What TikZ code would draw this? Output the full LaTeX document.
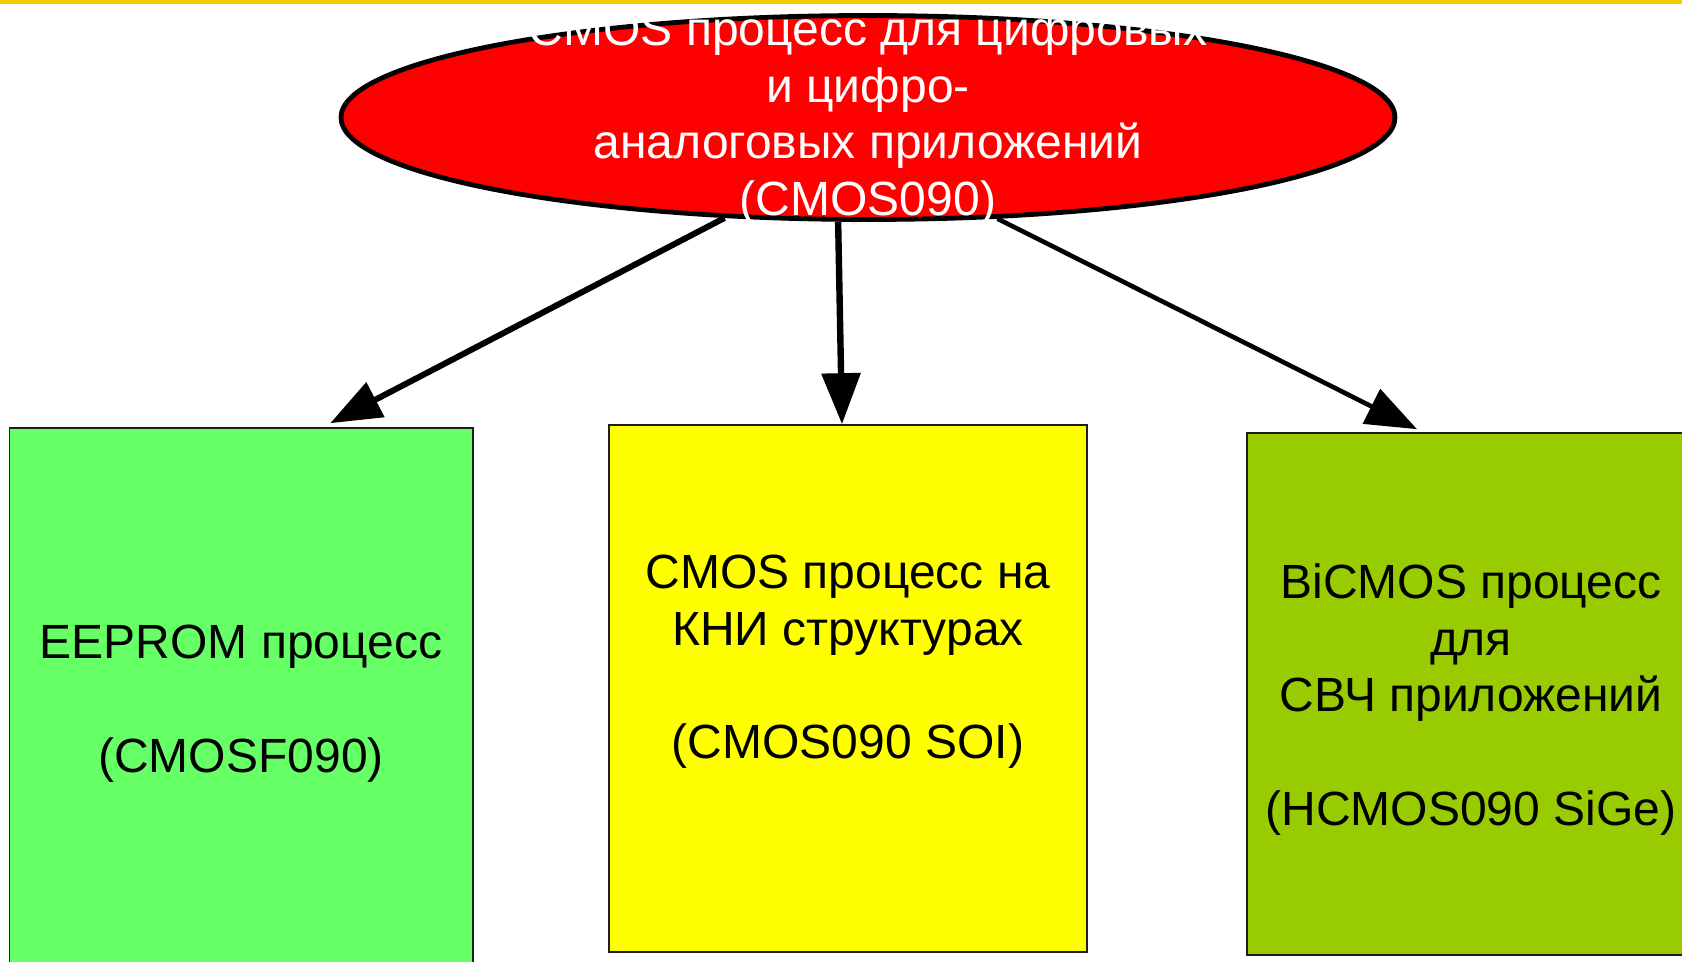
\documentclass[tikz,border=0pt]{standalone}
\usepackage{fontspec}
\setmainfont{Liberation Sans}
\usetikzlibrary{arrows.meta,shapes.geometric,positioning}
\definecolor{topbar}{RGB}{240,204,0}
\definecolor{redfill}{RGB}{255,0,0}
\definecolor{greenfill}{RGB}{102,255,102}
\definecolor{yellowfill}{RGB}{255,255,0}
\definecolor{olivefill}{RGB}{153,204,0}
\definecolor{boxline}{RGB}{30,30,30}
\tikzset{
  x=0.5pt, y=-0.5pt,
  boxnode/.style={draw=boxline, line width=0.8pt, rectangle, inner sep=0pt},
  lbl/.style={align=center, inner sep=0pt, font=\fontsize{24pt}{28.4pt}\selectfont},
  arr/.style={-{Triangle[length=25.5pt,width=19pt]}, black},
}
\begin{document}
\begin{tikzpicture}
\useasboundingbox (0,0) rectangle (1682,962);
\fill[topbar] (0,0) rectangle (1682,4);

% boxes
\node[boxnode, fill=greenfill, minimum width=463.5pt*0.5, minimum height=542pt*0.5] (green) at (241.25,699) {};
\node[boxnode, fill=yellowfill, minimum width=478pt*0.5, minimum height=527pt*0.5] (yellow) at (848,688.5) {};
\node[boxnode, fill=olivefill, minimum width=450pt*0.5, minimum height=522pt*0.5] (olive) at (1472,694) {};

% top ellipse
\node[ellipse, draw=black, line width=2.4pt, fill=redfill, minimum width=1054pt*0.5, minimum height=204pt*0.5, inner sep=0pt] (top) at (868,117.5) {};
\node[lbl, text=white] (toplbl) at (868,118) {CMOS процесс для цифровых\\и цифро-\\аналоговых приложений\\(CMOS090)};

% box labels
\node[lbl] (greenlbl) at (241,703.5) {EEPROM процесс\\[28.4pt](CMOSF090)};
\node[lbl] (yellowlbl) at (848,662) {CMOS процесс на\\КНИ структурах\\[28.4pt](CMOS090 SOI)};
\node[lbl] (olivelbl) at (1471,699.5) {BiCMOS процесс\\для\\СВЧ приложений\\[28.4pt](HCMOS090 SiGe)};

% arrows
\draw[arr, line width=3pt] (top.215.8) -- ([xshift=44.5pt,yshift=2pt]green.north);
\draw[arr, line width=3.2pt] (top.254.7) -- ([xshift=-3pt]yellow.north);
\draw[arr, line width=2.3pt] (top.322.4) -- ([xshift=-27.5pt,yshift=1.5pt]olive.north);
\end{tikzpicture}
\end{document}
